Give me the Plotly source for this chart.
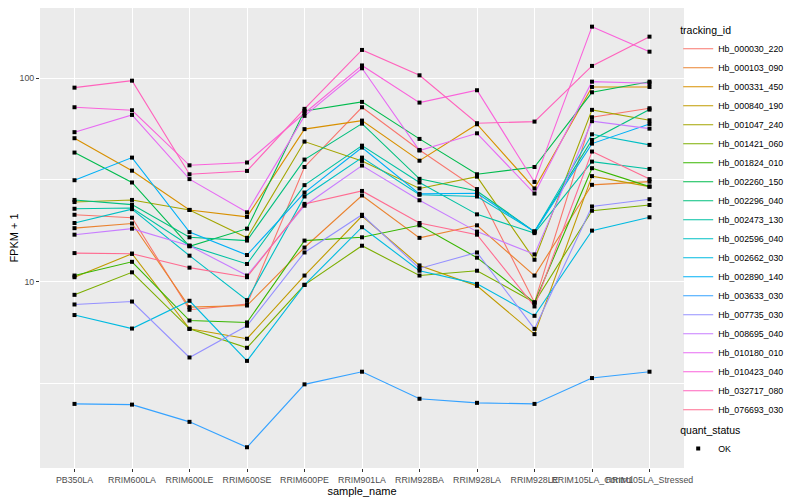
import plotly.graph_objects as go

samples = ["PB350LA", "RRIM600LA", "RRIM600LE", "RRIM600SE", "RRIM600PE", "RRIM901LA",
           "RRIM928BA", "RRIM928LA", "RRIM928LE", "RRIM105LA_Control", "RRIM105LA_Stressed"]

hb_000030_220 = [21.3, 20.6, 7.26, 7.74, 36.6, 72.0, 44.4, 28.5, 7.88, 64.3, 71.2]
hb_000103_090 = [18.3, 19.3, 7.48, 7.62, 14.7, 26.5, 16.4, 18.9, 10.7, 29.9, 31.0]
hb_000331_450 = [50.7, 35.1, 22.5, 20.8, 56.2, 61.9, 39.3, 59.4, 28.7, 90.6, 90.6]
hb_000840_190 = [10.5, 13.7, 5.85, 5.23, 10.7, 21.0, 12.0, 9.52, 5.51, 33.0, 29.3]
hb_001047_240 = [24.6, 25.2, 22.5, 16.4, 48.8, 39.2, 28.7, 32.8, 12.8, 69.9, 62.1]
hb_001421_060 = [8.60, 11.1, 5.85, 4.72, 9.63, 15.0, 10.7, 11.3, 7.88, 22.3, 23.8]
hb_001824_010 = [10.7, 12.5, 6.43, 6.29, 15.9, 16.5, 18.9, 13.1, 7.88, 36.1, 29.3]
hb_002260_150 = [43.1, 30.7, 14.9, 18.2, 69.1, 76.5, 50.3, 33.7, 36.6, 85.3, 96.2]
hb_002296_040 = [25.2, 23.9, 16.5, 15.9, 39.8, 59.8, 32.0, 27.9, 17.6, 49.7, 70.1]
hb_002473_130 = [22.8, 23.0, 15.0, 12.2, 29.8, 46.6, 30.7, 21.4, 17.3, 38.9, 35.8]
hb_002596_040 = [19.4, 22.7, 13.4, 8.10, 26.2, 40.7, 26.7, 26.2, 17.6, 53.0, 47.0]
hb_002662_030 = [6.84, 5.87, 8.04, 4.07, 9.63, 18.5, 11.3, 9.74, 6.78, 17.8, 20.7]
hb_002890_140 = [31.5, 40.7, 17.5, 13.5, 27.4, 45.6, 27.0, 27.2, 17.6, 47.7, 59.6]
hb_003633_030 = [2.50, 2.48, 2.04, 1.53, 3.12, 3.60, 2.65, 2.53, 2.50, 3.35, 3.60]
hb_007735_030 = [7.71, 7.97, 4.23, 6.06, 13.9, 21.3, 11.6, 13.9, 5.85, 23.4, 25.4]
hb_008695_040 = [17.0, 18.2, 15.0, 10.7, 23.6, 37.2, 25.1, 17.6, 13.6, 61.5, 56.5]
hb_010180_010 = [54.3, 66.0, 31.9, 21.9, 65.3, 112.0, 44.1, 53.6, 27.1, 96.2, 94.5]
hb_010423_040 = [72.0, 69.6, 37.3, 38.5, 67.3, 115.6, 75.9, 87.3, 30.9, 179.4, 135.1]
hb_032717_080 = [89.9, 97.3, 33.7, 35.0, 70.7, 137.8, 103.4, 60.1, 61.2, 115.0, 160.2]
hb_076693_030 = [13.8, 13.7, 11.7, 10.5, 24.1, 27.9, 19.4, 17.0, 7.54, 43.6, 31.9]

tracking_ids = ["Hb_000030_220", "Hb_000103_090", "Hb_000331_450", "Hb_000840_190",
                "Hb_001047_240", "Hb_001421_060", "Hb_001824_010", "Hb_002260_150",
                "Hb_002296_040", "Hb_002473_130", "Hb_002596_040", "Hb_002662_030",
                "Hb_002890_140", "Hb_003633_030", "Hb_007735_030", "Hb_008695_040",
                "Hb_010180_010", "Hb_010423_040", "Hb_032717_080", "Hb_076693_030"]
series = [hb_000030_220, hb_000103_090, hb_000331_450, hb_000840_190, hb_001047_240,
          hb_001421_060, hb_001824_010, hb_002260_150, hb_002296_040, hb_002473_130,
          hb_002596_040, hb_002662_030, hb_002890_140, hb_003633_030, hb_007735_030,
          hb_008695_040, hb_010180_010, hb_010423_040, hb_032717_080, hb_076693_030]
colors = ["#F8766D", "#EA8331", "#D89000", "#C09B00", "#A3A500", "#7CAE00", "#39B600",
          "#00BB4E", "#00BF7D", "#00C1A3", "#00BFC4", "#00BAE0", "#00B0F6", "#35A2FF",
          "#9590FF", "#C77CFF", "#E76BF3", "#FA62DB", "#FF62BC", "#FF6C91"]
quant_status = ["OK"]

FONT = "Liberation Sans, Arial, sans-serif"

fig = go.Figure()
for name, vals, col in zip(tracking_ids, series, colors):
    fig.add_trace(go.Scatter(x=samples, y=vals, mode="lines", name=name,
                             line=dict(color=col, width=1.1), legend="legend"))

all_x = [s for vals in series for s in samples]
all_y = [v for vals in series for v in vals]
fig.add_trace(go.Scatter(x=all_x, y=all_y, mode="markers", name=quant_status[0],
                         marker=dict(symbol="square", size=4, color="black"),
                         legend="legend2"))

# page body has an 8px margin, so the figure is sized to fit the 800x500 window
fig.update_layout(
    width=792, height=492,
    margin=dict(l=32, r=116, t=0, b=32, autoexpand=False),
    paper_bgcolor="white", plot_bgcolor="#EBEBEB",
    font=dict(family=FONT, size=9, color="black"),
    showlegend=True,
    legend=dict(title=dict(text="tracking_id", font=dict(size=10.5)),
                x=0.991, xanchor="left", y=0.9726, yanchor="top",
                font=dict(size=8.8), itemwidth=30, bgcolor="rgba(0,0,0,0)"),
    legend2=dict(title=dict(text="quant_status", font=dict(size=10.5)),
                 x=0.991, xanchor="left", y=0.1035, yanchor="top",
                 font=dict(size=8.8), itemwidth=30, bgcolor="rgba(0,0,0,0)"),
    xaxis=dict(type="category", categoryorder="array", categoryarray=samples,
               range=[-0.6, 10.6], showgrid=True, gridcolor="white", gridwidth=1.2,
               zeroline=False, ticks="outside", ticklen=3, tickcolor="#333333",
               tickangle=0,
               tickfont=dict(size=8.8, color="#4D4D4D"),
               title=dict(text="sample_name", font=dict(size=11), standoff=0),
               showline=False),
    yaxis=dict(type="log", range=[0.0826, 2.3456], tickvals=[10, 100], ticktext=["10", "100"],
               showgrid=True, gridcolor="white", gridwidth=1.2, zeroline=False,
               ticks="outside", ticklen=3, tickcolor="#333333",
               tickfont=dict(size=8.8, color="#4D4D4D"),
               minor=dict(tickmode="array", tickvals=[3.1623, 31.623], showgrid=True,
                          gridcolor="white", gridwidth=0.6, ticks=""),
               title=dict(text="FPKM + 1", font=dict(size=11), standoff=6),
               showline=False),
)

fig.write_html("out.html")
